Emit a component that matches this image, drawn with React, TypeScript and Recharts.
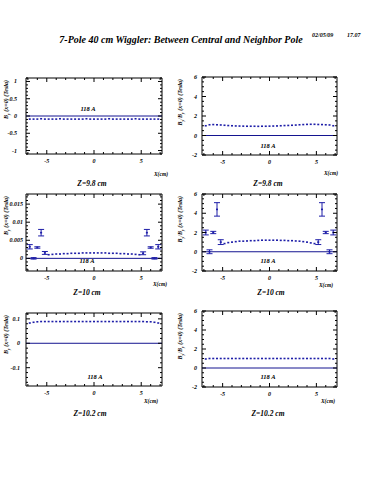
import React from "react";
import { ScatterChart, Scatter, XAxis, YAxis, ReferenceLine, ReferenceArea, ErrorBar } from "recharts";

const INK = "#000";
const BLUE = "#1e1ea8";
const NAVY = "#141490";
const FONT = "'Liberation Serif', 'Times New Roman', serif";

// x positions of the measurement points (cm)
const X_FULL = [-6.8, -6.4, -6.0, -5.6, -5.2, -4.8, -4.4, -4.0, -3.6, -3.2, -2.8, -2.4, -2.0, -1.6, -1.2, -0.8, -0.4, 0, 0.4, 0.8, 1.2, 1.6, 2.0, 2.4, 2.8, 3.2, 3.6, 4.0, 4.4, 4.8, 5.2, 5.6, 6.0, 6.4, 6.8];
const X_MID = [-4.8, -4.4, -4.0, -3.6, -3.2, -2.8, -2.4, -2.0, -1.6, -1.2, -0.8, -0.4, 0, 0.4, 0.8, 1.2, 1.6, 2.0, 2.4, 2.8, 3.2, 3.6, 4.0, 4.4, 4.8];
const X_EDGE = [-6.8, -6.4, -6.0, -5.6, -5.2, 5.2, 5.6, 6.0, 6.4, 6.8];

const X_DOMAIN = [-7.2, 7.2];
const X_MAJOR = [-5, 0, 5];
const X_MINOR = [-7, -6, -4, -3, -2, -1, 1, 2, 3, 4, 6, 7];

// Z = 9.8 cm
const A_Y = [-0.09, -0.09, -0.09, -0.08, -0.09, -0.09, -0.09, -0.09, -0.08, -0.09, -0.09, -0.09, -0.09, -0.09, -0.09, -0.08, -0.09, -0.09, -0.09, -0.09, -0.09, -0.08, -0.09, -0.09, -0.09, -0.09, -0.09, -0.09, -0.08, -0.09, -0.09, -0.09, -0.09, -0.09, -0.09];
const B_Y = [1.0, 1.1, 1.12, 1.1, 1.08, 1.05, 1.02, 1.0, 0.98, 0.97, 0.96, 0.95, 0.95, 0.95, 0.94, 0.95, 0.95, 0.96, 0.97, 0.98, 1.0, 1.02, 1.03, 1.05, 1.07, 1.1, 1.12, 1.14, 1.15, 1.15, 1.13, 1.12, 1.1, 1.08, 1.0];

// Z = 10 cm
const C_MID = [0.001, 0.0011, 0.0012, 0.0012, 0.0013, 0.0013, 0.0014, 0.0014, 0.0014, 0.0015, 0.0015, 0.0015, 0.0015, 0.0015, 0.0015, 0.0015, 0.0014, 0.0014, 0.0014, 0.0013, 0.0013, 0.0012, 0.0012, 0.0011, 0.001];
const C_EDGE = [0.0032, 0.0, 0.003, 0.0071, 0.0015, 0.0014, 0.0071, 0.003, 0.0, 0.0032];
const C_ERR = [0.0006, 0.0002, 0.0002, 0.0009, 0.0004, 0.0004, 0.0009, 0.0002, 0.0002, 0.0006];
const D_MID = [0.85, 0.95, 1.0, 1.05, 1.1, 1.1, 1.12, 1.15, 1.15, 1.18, 1.2, 1.2, 1.2, 1.2, 1.2, 1.18, 1.18, 1.15, 1.15, 1.12, 1.1, 1.05, 1.0, 0.92, 0.85];
const D_EDGE = [2.0, 0.0, 2.0, 4.4, 1.0, 1.0, 4.4, 2.0, 0.0, 2.0];
const D_ERR = [0.25, 0.2, 0.12, 0.7, 0.25, 0.25, 0.7, 0.12, 0.2, 0.25];

// Z = 10.2 cm
const E_Y = [0.083, 0.086, 0.088, 0.089, 0.089, 0.089, 0.089, 0.089, 0.089, 0.089, 0.089, 0.089, 0.089, 0.089, 0.089, 0.089, 0.089, 0.089, 0.089, 0.089, 0.089, 0.089, 0.089, 0.089, 0.089, 0.089, 0.089, 0.089, 0.089, 0.089, 0.089, 0.088, 0.088, 0.086, 0.083];
const F_Y = [0.95, 1.0, 1.0, 1.0, 1.0, 1.0, 1.0, 1.0, 1.0, 1.0, 1.0, 1.0, 1.0, 1.0, 1.0, 1.0, 1.0, 1.0, 1.0, 1.0, 1.0, 1.0, 1.0, 1.0, 1.0, 1.0, 1.0, 1.0, 1.0, 1.0, 1.0, 1.0, 1.0, 1.0, 0.95];

const RATIO_MAJOR = [-2, 0, 2, 4, 6];

const steps = (lo: number, hi: number, st: number) => {
  const out: number[] = [];
  for (let v = lo; v <= hi + 1e-9; v += st) out.push(+v.toFixed(6));
  return out;
};

const ML = 26;
const MT = 2;
const MR = 4;
const MB = 14;

const Square = (props: any) => (
  <rect x={props.cx - 1} y={props.cy - 0.8} width={2} height={1.6} fill={BLUE} />
);

function XTick(props: any) {
  const { x, y, payload, h } = props;
  const v = payload.value;
  const major = X_MAJOR.some((m) => Math.abs(m - v) < 1e-9);
  const len = major ? 4 : 2;
  return (
    <g>
      <line x1={x} x2={x} y1={y} y2={y - len} stroke={INK} strokeWidth={1} />
      <line x1={x} x2={x} y1={y - h} y2={y - h + len} stroke={INK} strokeWidth={1} />
      {major && (
        <text x={x} y={y + 8.5} textAnchor="middle" fontSize={6} fontFamily={FONT} fontWeight="bold" fontStyle="italic" fill={INK}>
          {v}
        </text>
      )}
    </g>
  );
}

function YTick(props: any) {
  const { x, y, payload, w, majors, gap } = props;
  const v = payload.value;
  const major = majors.some((m: number) => Math.abs(m - v) < 1e-12);
  const len = major ? 4 : 2;
  return (
    <g>
      <line x1={x} x2={x + len} y1={y} y2={y} stroke={INK} strokeWidth={1} />
      <line x1={x + w - len} x2={x + w} y1={y} y2={y} stroke={INK} strokeWidth={1} />
      {major && (
        <text x={x - gap} y={y + 2} textAnchor="end" fontSize={6} fontFamily={FONT} fontWeight="bold" fontStyle="italic" fill={INK}>
          {v}
        </text>
      )}
    </g>
  );
}

function Panel({ p }: any) {
  const yTicks = Array.from(new Set([...p.yMajor, ...steps(p.minorLo, p.minorHi, p.minorStep)])).sort((a, b) => a - b);
  const pts = p.xs.map((x: number, i: number) => ({ x, y: p.ys[i] }));
  const edge = p.edgeY ? X_EDGE.map((x, i) => ({ x, y: p.edgeY[i], err: p.edgeErr[i] })) : null;
  return (
    <div style={{ position: "absolute", left: p.fx - ML, top: p.fy - MT }}>
      <ScatterChart width={p.w + ML + MR} height={p.h + MT + MB} margin={{ top: MT, right: MR, bottom: 0, left: 0 }}>
        <XAxis
          type="number"
          dataKey="x"
          domain={X_DOMAIN}
          ticks={[...X_MAJOR, ...X_MINOR].sort((a, b) => a - b)}
          interval={0}
          tickSize={0}
          tickMargin={0}
          axisLine={false}
          tickLine={false}
          height={MB}
          allowDataOverflow
          tick={<XTick h={p.h} />}
        />
        <YAxis
          type="number"
          dataKey="y"
          domain={p.yDom}
          ticks={yTicks}
          interval={0}
          tickSize={0}
          tickMargin={0}
          axisLine={false}
          tickLine={false}
          width={ML}
          allowDataOverflow
          tick={<YTick w={p.w} majors={p.yMajor} gap={p.gap} />}
        />
        <ReferenceArea x1={X_DOMAIN[0]} x2={X_DOMAIN[1]} y1={p.yDom[0]} y2={p.yDom[1]} fill="none" fillOpacity={0} stroke={INK} strokeWidth={1} />
        <ReferenceLine y={0} stroke={NAVY} strokeWidth={1} />
        <Scatter data={pts} shape={Square} fill={BLUE} isAnimationActive={false} />
        {edge && (
          <Scatter data={edge} shape={Square} fill={BLUE} isAnimationActive={false}>
            <ErrorBar dataKey="err" direction="y" width={3} stroke={BLUE} strokeWidth={1} />
          </Scatter>
        )}
      </ScatterChart>
    </div>
  );
}

const PANELS = [
  { fx: 26, fy: 78, w: 136, h: 76, yDom: [-1.1, 1.1], yMajor: [-1, -0.5, 0, 0.5, 1], minorLo: -1.1, minorHi: 1.1, minorStep: 0.1, gap: 9, xs: X_FULL, ys: A_Y },
  { fx: 202, fy: 77, w: 135, h: 78, yDom: [-2, 6], yMajor: RATIO_MAJOR, minorLo: -2, minorHi: 6, minorStep: 0.5, gap: 5, xs: X_FULL, ys: B_Y },
  { fx: 26, fy: 194, w: 136, h: 77, yDom: [-0.0035, 0.0178], yMajor: [0, 0.005, 0.01, 0.015], minorLo: -0.003, minorHi: 0.017, minorStep: 0.001, gap: 3, xs: X_MID, ys: C_MID, edgeY: C_EDGE, edgeErr: C_ERR },
  { fx: 202, fy: 194, w: 135, h: 77, yDom: [-2, 6], yMajor: RATIO_MAJOR, minorLo: -2, minorHi: 6, minorStep: 0.5, gap: 5, xs: X_MID, ys: D_MID, edgeY: D_EDGE, edgeErr: D_ERR },
  { fx: 26, fy: 313, w: 136, h: 73, yDom: [-0.175, 0.124], yMajor: [-0.1, 0, 0.1], minorLo: -0.16, minorHi: 0.12, minorStep: 0.02, gap: 6, xs: X_FULL, ys: E_Y },
  { fx: 202, fy: 311, w: 135, h: 76, yDom: [-2, 6], yMajor: RATIO_MAJOR, minorLo: -2, minorHi: 6, minorStep: 0.5, gap: 5, xs: X_FULL, ys: F_Y },
];

const T = { fontFamily: FONT, fontWeight: "bold" as const, fontStyle: "italic" as const, fill: INK };

const Z_LABELS = [
  { x: 92, y: 185.5, t: "Z=9.8 cm" },
  { x: 268, y: 185.5, t: "Z=9.8 cm" },
  { x: 87, y: 294.5, t: "Z=10 cm" },
  { x: 271, y: 295, t: "Z=10 cm" },
  { x: 90, y: 416, t: "Z=10.2 cm" },
  { x: 268, y: 416, t: "Z=10.2 cm" },
];
const XCM = [
  { x: 168, y: 176 },
  { x: 338, y: 175 },
  { x: 167, y: 286 },
  { x: 333, y: 287 },
  { x: 158, y: 403 },
  { x: 335, y: 403 },
];
const TAGS = [
  { x: 88, y: 111 },
  { x: 268, y: 148 },
  { x: 87, y: 263 },
  { x: 268, y: 263 },
  { x: 95, y: 379 },
  { x: 268, y: 379 },
];

const YTitle = ({ x, y, ratio }: any) => (
  <text transform={`translate(${x},${y}) rotate(-90)`} textAnchor="end" fontSize={6} {...T}>
    <tspan>B</tspan>
    <tspan dy={1.5} fontSize={4}>y</tspan>
    {ratio && <tspan dy={-1.5}>/B</tspan>}
    {ratio && <tspan dy={1.5} fontSize={4}>y</tspan>}
    <tspan dy={-1.5}> (x=0) (Tesla)</tspan>
  </text>
);

export default function App() {
  return (
    <div style={{ position: "absolute", left: 0, top: 0, width: 375, height: 500, background: "#fff" }}>
      {PANELS.map((p, i) => (
        <Panel key={i} p={p} />
      ))}
      <svg width={375} height={500} style={{ position: "absolute", left: 0, top: 0, pointerEvents: "none" }}>
        <text x={181} y={43} textAnchor="middle" fontSize={10} {...T}>
          7-Pole 40 cm Wiggler: Between Central and Neighbor Pole
        </text>
        <text x={312} y={37} fontSize={6} {...T}>02/05/09</text>
        <text x={347} y={37} fontSize={6} {...T}>17.07</text>
        {PANELS.map((p, i) => (
          <YTitle key={i} x={i % 2 === 0 ? 8 : 182} y={p.fy + 2} ratio={i % 2 === 1} />
        ))}
        {Z_LABELS.map((z, i) => (
          <text key={i} x={z.x} y={z.y} textAnchor="middle" fontSize={7.5} {...T}>
            {z.t}
          </text>
        ))}
        {XCM.map((c, i) => (
          <text key={i} x={c.x} y={c.y} textAnchor="end" fontSize={5.5} {...T}>
            X(cm)
          </text>
        ))}
        {TAGS.map((g, i) => (
          <text key={i} x={g.x} y={g.y} textAnchor="middle" fontSize={6.5} {...T}>
            118 A
          </text>
        ))}
      </svg>
    </div>
  );
}
